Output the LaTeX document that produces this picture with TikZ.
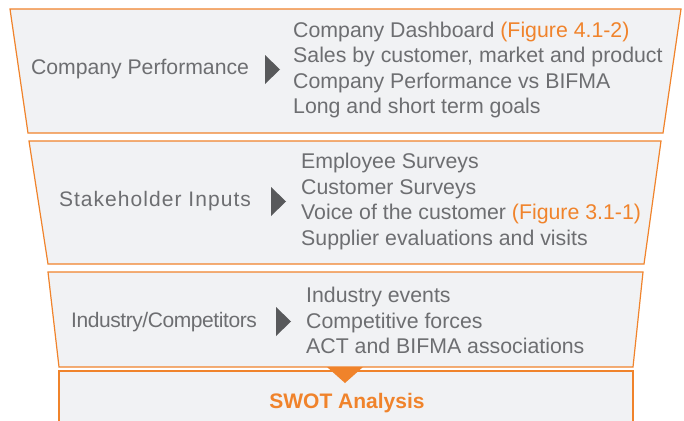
\documentclass[tikz,border=0pt]{standalone}
\usepackage{fontspec}
\setmainfont{Liberation Sans}
\usepackage{tikz}
\usetikzlibrary{calc, positioning}
\definecolor{swotorange}{RGB}{240,131,43}
\definecolor{panelfill}{RGB}{241,242,244}
\definecolor{labelgray}{RGB}{109,110,113}
\definecolor{arrowgray}{RGB}{88,89,91}
\tikzstyle{panel}     = [draw=swotorange, fill=panelfill, line width=1.2pt]
\tikzstyle{heading}   = [text=labelgray, font=\fontsize{21}{25}\selectfont, inner sep=0pt]
\tikzstyle{items}     = [text=labelgray, font=\fontsize{21.3}{25.5}\selectfont, align=left, anchor=west, inner sep=0pt]
\tikzstyle{pointer}   = [fill=arrowgray]
\newcommand{\figref}[1]{\textcolor{swotorange}{#1}}

\begin{document}
\begin{tikzpicture}[x=1pt, y=-1pt]
  \useasboundingbox (0,0) rectangle (684,420);
  \foreach \top/\bot/\tl/\tr/\bl/\br in {9/133/10/681/28/663, 141/264/29/661/48/644, 272/367/48/643/59/633} {
      \draw[panel] (\tl,\top) -- (\tr,\top) -- (\br,\bot) -- (\bl,\bot) -- cycle;
  }
  \draw[panel] (59,371) rectangle (633,430);
  \fill[swotorange] (327,367) -- (363,367) -- (345,383) -- cycle;
  \foreach \x/\y in {265/55, 271/187, 276/307} {
      \fill[pointer] (\x,\y) -- ($(\x,\y)+(15,14.5)$) -- ($(\x,\y)+(0,29)$) -- cycle;
  }
  \node[heading, font=\fontsize{21.2}{25}\selectfont] (perf) at (140,69.5) {Company Performance};
  \node[heading, font=\fontsize{21}{25}\selectfont\addfontfeatures{LetterSpace=5}] (stake) at (155,201.5) {Stakeholder Inputs};
  \node[heading, font=\fontsize{21}{25}\selectfont\addfontfeatures{LetterSpace=-2}] (industry) at (164,322.5) {Industry/Competitors};
  \node[items] (perfitems) at (293,70) {Company Dashboard \figref{(Figure 4.1-2)}\\Sales by customer, market and product\\Company Performance vs BIFMA\\Long and short term goals};
  \node[items] (stakeitems) at (301,201.5) {Employee Surveys\\Customer Surveys\\Voice of the customer \figref{(Figure 3.1-1)}\\Supplier evaluations and visits};
  \node[items] (industryitems) at (306,320.5) {Industry events\\Competitive forces\\ACT and BIFMA associations};
  \node[font=\bfseries\fontsize{21}{25}\selectfont, text=swotorange, inner sep=0pt] (swot) at (347,403) {SWOT Analysis};
\end{tikzpicture}
\end{document}
